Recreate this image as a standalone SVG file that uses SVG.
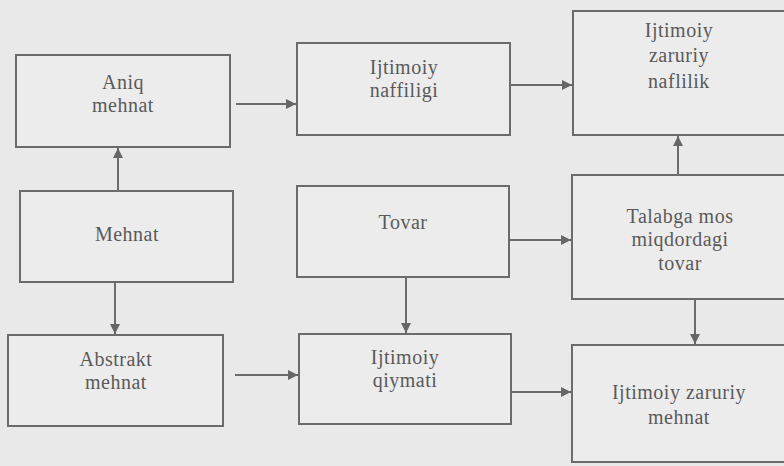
<svg xmlns="http://www.w3.org/2000/svg" width="784" height="466" viewBox="0 0 784 466">
<defs>
<style>
.box{fill:#ececec;stroke:#6b6b6b;stroke-width:2}
.t{font-family:"Liberation Serif","Times New Roman",serif;font-size:20px;letter-spacing:0.5px;fill:#5a5a5a;text-anchor:middle}
.c{stroke:#6b6b6b;stroke-width:2;fill:none;marker-end:url(#ah)}
</style>
<marker id="ah" viewBox="0 0 10 10" refX="10" refY="5" markerWidth="6" markerHeight="5" markerUnits="strokeWidth" orient="auto">
<path d="M0,0 L10,5 L0,10 z" fill="#666"/>
</marker>
</defs>
<rect width="784" height="466" fill="#e9e9e9"/>
<g id="aniq">
<rect class="box" x="16" y="55" width="214" height="92"/>
<text class="t" x="123" y="89">Aniq</text>
<text class="t" x="123" y="112">mehnat</text>
</g>
<g id="naffiligi">
<rect class="box" x="297" y="43" width="213" height="92"/>
<text class="t" x="404" y="74">Ijtimoiy</text>
<text class="t" x="404" y="97">naffiligi</text>
</g>
<g id="naflilik">
<rect class="box" x="573" y="11" width="215" height="124"/>
<text class="t" x="679" y="37">Ijtimoiy</text>
<text class="t" x="679" y="62">zaruriy</text>
<text class="t" x="679" y="88">naflilik</text>
</g>
<g id="mehnat">
<rect class="box" x="20" y="191" width="213" height="91"/>
<text class="t" x="127" y="241">Mehnat</text>
</g>
<g id="tovar">
<rect class="box" x="297" y="186" width="212" height="91"/>
<text class="t" x="403" y="229">Tovar</text>
</g>
<g id="talabga">
<rect class="box" x="572" y="175" width="216" height="124"/>
<text class="t" x="680" y="223">Talabga mos</text>
<text class="t" x="680" y="246">miqdordagi</text>
<text class="t" x="680" y="270">tovar</text>
</g>
<g id="abstrakt">
<rect class="box" x="8" y="335" width="215" height="91"/>
<text class="t" x="116" y="366">Abstrakt</text>
<text class="t" x="116" y="389">mehnat</text>
</g>
<g id="qiymati">
<rect class="box" x="299" y="334" width="212" height="90"/>
<text class="t" x="405" y="364">Ijtimoiy</text>
<text class="t" x="405" y="387">qiymati</text>
</g>
<g id="zaruriy-mehnat">
<rect class="box" x="572" y="345" width="216" height="117"/>
<text class="t" x="679" y="399">Ijtimoiy zaruriy</text>
<text class="t" x="679" y="424">mehnat</text>
</g>
<g id="connectors">
<line class="c" x1="236" y1="104" x2="296" y2="104"/>
<line class="c" x1="510" y1="85" x2="572" y2="85"/>
<line class="c" x1="118" y1="191" x2="118" y2="148"/>
<line class="c" x1="115" y1="282" x2="115" y2="334"/>
<line class="c" x1="235" y1="375" x2="298" y2="375"/>
<line class="c" x1="406" y1="277" x2="406" y2="333"/>
<line class="c" x1="509" y1="240" x2="571" y2="240"/>
<line class="c" x1="678" y1="175" x2="678" y2="136"/>
<line class="c" x1="695" y1="299" x2="695" y2="344"/>
<line class="c" x1="511" y1="392" x2="571" y2="392"/>
</g>
</svg>
